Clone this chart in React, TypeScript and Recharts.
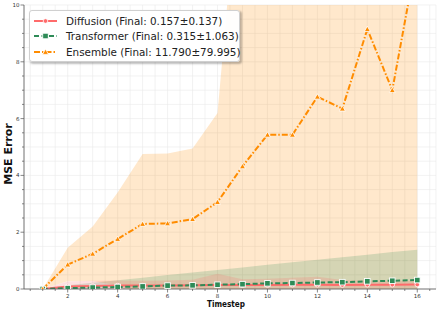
import React from 'react';
import { ComposedChart, Line, Area, XAxis, YAxis, CartesianGrid, Legend } from 'recharts';

// ---- data ----
const timesteps = [1, 2, 3, 4, 5, 6, 7, 8, 9, 10, 11, 12, 13, 14, 15, 16];
const diffusionMean = [0, 0.09, 0.11, 0.12, 0.12, 0.12, 0.13, 0.14, 0.14, 0.14, 0.15, 0.15, 0.14, 0.15, 0.15, 0.157];
const diffusionStd = [0, 0.17, 0.18, 0.18, 0.17, 0.18, 0.2, 0.4, 0.2, 0.22, 0.25, 0.28, 0.18, 0.15, 0.14, 0.137];
const transformerMean = [0, 0.03, 0.05, 0.07, 0.09, 0.12, 0.13, 0.15, 0.17, 0.2, 0.21, 0.23, 0.24, 0.27, 0.29, 0.315];
const transformerStd = [0, 0.1, 0.17, 0.24, 0.31, 0.37, 0.45, 0.52, 0.59, 0.65, 0.73, 0.8, 0.88, 0.94, 1.01, 1.063];
const ensembleMean = [0, 0.86, 1.24, 1.76, 2.29, 2.31, 2.46, 3.06, 4.32, 5.43, 5.43, 6.77, 6.35, 9.15, 7.0, 11.79];
const ensembleStd = [0, 0.59, 0.96, 1.64, 2.46, 2.46, 2.49, 3.14, 11.7, 15.0, 18.0, 22.0, 25.0, 35.0, 40.0, 79.995];
const seriesNames = ['Diffusion', 'Transformer', 'Ensemble'];
const finalLabels = ['0.157±0.137', '0.315±1.063', '11.790±79.995'];
const xMajorTicks = [2, 4, 6, 8, 10, 12, 14, 16];
const yMajorTicks = [0, 2, 4, 6, 8, 10];
const xAxisLabel = 'Timestep';
const yAxisLabel = 'MSE Error';

// ---- build ----
const data = timesteps.map((t, i) => ({
  t,
  diffusion: diffusionMean[i],
  diffusionBand: [diffusionMean[i] - diffusionStd[i], diffusionMean[i] + diffusionStd[i]],
  transformer: transformerMean[i],
  transformerBand: [transformerMean[i] - transformerStd[i], transformerMean[i] + transformerStd[i]],
  ensemble: ensembleMean[i],
  ensembleBand: [ensembleMean[i] - ensembleStd[i], ensembleMean[i] + ensembleStd[i]],
}));

const xMinor: number[] = [];
for (let v = 0.5; v <= 16.5; v += 0.5) xMinor.push(v);
const yMinor: number[] = [];
for (let v = 0; v <= 10; v += 0.5) yMinor.push(v);

const FONT = 'DejaVu Sans, sans-serif';
const styles = [
  { key: 'diffusion', color: '#ff6b6b', dash: undefined as string | undefined, marker: 'circle' },
  { key: 'transformer', color: '#2e8b57', dash: '5 2.5', marker: 'square' },
  { key: 'ensemble', color: '#ff8c00', dash: '6 2 1.5 2', marker: 'triangle' },
];

const Marker = ({ shape, color, cx, cy }: any) => {
  if (shape === 'circle') return <circle cx={cx} cy={cy} r={2.3} fill={color} stroke="#fff" strokeWidth={0.8} />;
  if (shape === 'square') return <rect x={cx - 2.8} y={cy - 2.8} width={5.6} height={5.6} fill={color} stroke="#fff" strokeWidth={0.9} />;
  const s = 3;
  return <polygon points={`${cx},${cy - s} ${cx - s},${cy + s * 0.8} ${cx + s},${cy + s * 0.8}`} fill={color} stroke="#fff" strokeWidth={0.8} />;
};

const makeDot = (shape: string, color: string) => (props: any) => {
  const { cx, cy, index } = props;
  if (cx == null || cy == null || isNaN(cy)) return <g key={`d${index}`} />;
  return <g key={`d${index}`}><Marker shape={shape} color={color} cx={cx} cy={cy} /></g>;
};

const XTick = (props: any) => {
  const { x, y, payload } = props;
  const v = payload.value;
  const major = xMajorTicks.includes(v);
  return (
    <g>
      <line x1={x} x2={x} y1={y} y2={y + (major ? 3.5 : 2)} stroke="#555" strokeWidth={0.7} />
      {major && (
        <text x={x} y={y + 9} textAnchor="middle" fontSize={5.5} fill="#333" fontFamily={FONT}>{v}</text>
      )}
    </g>
  );
};

const YTick = (props: any) => {
  const { x, y, payload } = props;
  const v = payload.value;
  const major = yMajorTicks.includes(v);
  return (
    <g>
      <line x1={x - (major ? 3.5 : 2)} x2={x} y1={y} y2={y} stroke="#555" strokeWidth={0.7} />
      {major && (
        <text x={x - 4.5} y={y + 2} textAnchor="end" fontSize={5.5} fill="#333" fontFamily={FONT}>{v}</text>
      )}
    </g>
  );
};

const LegendBox = () => (
  <div
    style={{
      width: 211,
      height: 52,
      boxSizing: 'border-box',
      background: 'rgba(255,255,255,0.95)',
      border: '1px solid #d0d0d0',
      borderRadius: 3,
      boxShadow: '1.5px 1.5px 2px rgba(0,0,0,0.25)',
      fontFamily: FONT,
      fontSize: 10.4,
      color: '#222',
      paddingTop: 2,
    }}
  >
    {styles.map((s, i) => (
      <div key={s.key} style={{ display: 'flex', alignItems: 'center', height: 15.5, whiteSpace: 'nowrap' }}>
        <svg width={30} height={10} style={{ marginLeft: 3, marginRight: 3, flex: 'none' }}>
          <line x1={1} x2={24} y1={5} y2={5} stroke={s.color} strokeWidth={2} strokeDasharray={s.dash} />
          <Marker shape={s.marker} color={s.color} cx={12.5} cy={5} />
        </svg>
        <span>{`${seriesNames[i]} (Final: ${finalLabels[i]})`}</span>
      </div>
    ))}
  </div>
);

export default function App() {
  return (
    <div style={{ position: 'absolute', left: 0, top: 0, width: 439, height: 312, background: '#fff' }}>
      <ComposedChart width={439} height={312} data={data} margin={{ top: 5, right: 3, left: 0, bottom: 0 }}>
        <CartesianGrid stroke="#e9e9e9" strokeWidth={0.6} />
        <XAxis
          dataKey="t"
          type="number"
          domain={[0.25, 16.75]}
          ticks={xMinor}
          interval={0}
          height={23}
          tickSize={0}
          tickMargin={0}
          tickLine={false}
          tick={<XTick />}
          axisLine={{ stroke: '#555', strokeWidth: 0.8 }}
          allowDataOverflow
          label={{
            content: (p: any) => {
              const vb = p.viewBox;
              return (
                <text x={vb.x + vb.width / 2 - 4} y={306.5} textAnchor="middle" fontSize={8.2} fontWeight="bold" fill="#111" fontFamily={FONT} textLength={38} lengthAdjust="spacingAndGlyphs">
                  {xAxisLabel}
                </text>
              );
            },
          }}
        />
        <YAxis
          type="number"
          domain={[0, 10]}
          ticks={yMinor}
          interval={0}
          width={24}
          tickSize={0}
          tickMargin={0}
          tickLine={false}
          tick={<YTick />}
          axisLine={{ stroke: '#555', strokeWidth: 0.8 }}
          allowDataOverflow
          label={{
            content: (p: any) => {
              const vb = p.viewBox;
              const cy = vb.y + vb.height / 2 + 7;
              return (
                <text x={8} y={cy} transform={`rotate(-90, 8, ${cy})`} textAnchor="middle" dominantBaseline="central" fontSize={11} fontWeight="bold" fill="#111" fontFamily={FONT}>
                  {yAxisLabel}
                </text>
              );
            },
          }}
        />
        <Area dataKey="ensembleBand" type="linear" stroke="none" fill="#ff8c00" fillOpacity={0.2} isAnimationActive={false} activeDot={false} />
        <Area dataKey="transformerBand" type="linear" stroke="none" fill="#2e8b57" fillOpacity={0.2} isAnimationActive={false} activeDot={false} />
        <Area dataKey="diffusionBand" type="linear" stroke="none" fill="#ff6b6b" fillOpacity={0.2} isAnimationActive={false} activeDot={false} />
        {styles.map((s) => (
          <Line
            key={s.key}
            dataKey={s.key}
            type="linear"
            stroke={s.color}
            strokeWidth={2}
            strokeDasharray={s.dash}
            dot={makeDot(s.marker, s.color)}
            activeDot={false}
            isAnimationActive={false}
          />
        ))}
        <Legend
          layout="vertical"
          align="center"
          verticalAlign="middle"
          wrapperStyle={{ left: 29, top: 10, width: 211, height: 52 }}
          content={() => <LegendBox />}
        />
      </ComposedChart>
    </div>
  );
}
